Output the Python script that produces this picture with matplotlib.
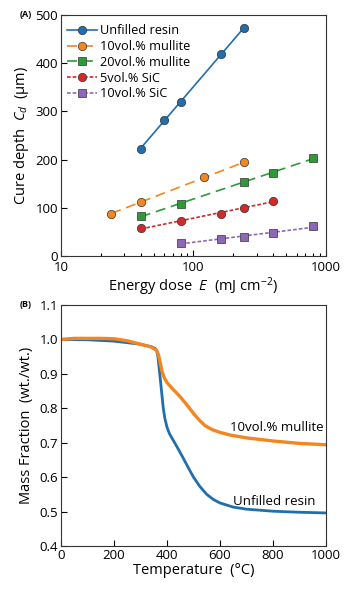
import matplotlib.pyplot as plt
import numpy as np
from matplotlib.lines import Line2D
from matplotlib.ticker import ScalarFormatter, NullFormatter

plt.rcParams["font.family"] = ["Open Sans", "DejaVu Sans"]
plt.rcParams["mathtext.fontset"] = "custom"
plt.rcParams["mathtext.it"] = "Open Sans:italic"
plt.rcParams["mathtext.rm"] = "Open Sans"

# (A) cure depth vs energy dose
names = ["Unfilled resin", "10vol.% mullite", "20vol.% mullite", "5vol.% SiC", "10vol.% SiC"]
dose_resin = [40, 60, 80, 160, 240]
depth_resin = [222, 282, 320, 418, 472]
dose_m10 = [24, 40, 120, 240]
depth_m10 = [88, 112, 163, 194]
dose_m20 = [40, 80, 240, 400, 800]
depth_m20 = [83, 108, 153, 172, 204]
dose_s5 = [40, 80, 160, 240, 400]
depth_s5 = [58, 72, 87, 100, 115]
dose_s10 = [80, 160, 240, 400, 800]
depth_s10 = [27, 35, 40, 47, 62]

# (B) TGA curves
temp_resin = [0, 100, 200, 300, 340, 355, 361, 366, 370, 374, 378, 382, 386, 392, 400,
              410, 425, 440, 460, 480, 500, 525, 550, 575, 600, 650, 700, 800, 900, 1000]
mass_resin = [1.0, 0.999, 0.995, 0.986, 0.979, 0.974, 0.968, 0.95, 0.92, 0.89, 0.86, 0.83,
              0.80, 0.77, 0.745, 0.725, 0.705, 0.685, 0.657, 0.628, 0.600, 0.572, 0.550,
              0.535, 0.525, 0.513, 0.507, 0.501, 0.498, 0.496]
temp_mul = [0, 50, 150, 200, 250, 300, 340, 361, 368, 375, 382, 390, 400, 418, 449, 475,
            499, 520, 543, 570, 600, 640, 700, 800, 900, 1000]
mass_mul = [1.0, 1.003, 1.003, 1.002, 0.996, 0.986, 0.978, 0.968, 0.955, 0.93, 0.905, 0.888,
            0.875, 0.859, 0.834, 0.81, 0.786, 0.767, 0.75, 0.738, 0.73, 0.722, 0.714, 0.705,
            0.698, 0.694]

colors = ["#1f6fb0", "#f4861f", "#2d9a3a", "#d22a2a", "#8e68b8"]
markers = ["o", "o", "s", "o", "s"]
dashes = [None, (6, 3.5), (6, 3.5), (2.2, 1.2), (2.2, 1.2)]

fig = plt.figure(figsize=(3.53, 5.89), dpi=100)
ax1 = fig.add_axes([0.1728, 0.5654, 0.7507, 0.4092])
ax2 = fig.add_axes([0.1728, 0.0730, 0.7507, 0.4092])

series = [(dose_resin, depth_resin), (dose_m10, depth_m10), (dose_m20, depth_m20),
          (dose_s5, depth_s5), (dose_s10, depth_s10)]
handles = []
for (xs, ys), c, m, d, name in zip(series, colors, markers, dashes, names):
    xs = np.array(xs, dtype=float)
    ys = np.array(ys, dtype=float)
    # linear fit of Cd against ln(E)
    k, b = np.polyfit(np.log10(xs), ys, 1)
    xf = np.array([xs.min(), xs.max()])
    ls = "-" if d is None else (0, d)
    ms = 6 if m == "o" else 5.6
    ax1.plot(xf, k * np.log10(xf) + b, color=c, lw=1.2, linestyle=ls, zorder=2)
    ax1.plot(xs, ys, linestyle="none", marker=m, ms=ms,
             mfc=c, mec="#333333", mew=0.5, zorder=3)
    handles.append(Line2D([], [], color=c, lw=1.2, linestyle=ls, marker=m,
                          ms=ms, mfc=c, mec="#333333", mew=0.5))

ax1.set_xscale("log")
ax1.set_xlim(10, 1000)
ax1.set_ylim(0, 500)
ax1.set_yticks([0, 100, 200, 300, 400, 500])
ax1.xaxis.set_major_formatter(ScalarFormatter())
ax1.xaxis.set_minor_formatter(NullFormatter())
ax1.set_xlabel("Energy dose  $E$  (mJ cm$^{-2}$)", fontsize=10.5, labelpad=1)
ax1.set_ylabel("Cure depth  $C_d$  (μm)", fontsize=10.5, labelpad=3)
ax1.legend(handles, names, loc="upper left", bbox_to_anchor=(0.005, 0.98), frameon=False,
           fontsize=9.2, handlelength=2.4, handletextpad=0.2, borderaxespad=0.15,
           labelspacing=0.22, borderpad=0.2)
ax1.text(-0.11, 1.0, "(A)", transform=ax1.transAxes, fontsize=6.5, fontweight="bold",
         ha="right", va="center")

ax2.plot(temp_resin, mass_resin, color=colors[0], lw=2.0)
ax2.plot(temp_mul, mass_mul, color=colors[1], lw=2.4)
ax2.set_xlim(0, 1000)
ax2.set_ylim(0.4, 1.1)
ax2.set_xticks([0, 200, 400, 600, 800, 1000])
ax2.set_yticks(np.arange(0.4, 1.11, 0.1))
ax2.yaxis.set_major_formatter(plt.FormatStrFormatter("%.1f"))
ax2.set_xlabel("Temperature  (°C)", fontsize=10.5, labelpad=1)
ax2.set_ylabel("Mass Fraction  (wt./wt.)", fontsize=10.5, labelpad=4)
ax2.text(638, 0.745, "10vol.% mullite", fontsize=9.5, va="center", ha="left")
ax2.text(649, 0.529, "Unfilled resin", fontsize=9.5, va="center", ha="left")
ax2.text(-0.11, 1.0, "(B)", transform=ax2.transAxes, fontsize=6.5, fontweight="bold",
         ha="right", va="center")

for ax in (ax1, ax2):
    ax.tick_params(direction="in", labelsize=9.5, length=4, width=0.8, pad=2)
    ax.tick_params(which="minor", direction="in", length=2.5, width=0.8)
    for s in ax.spines.values():
        s.set_linewidth(0.8)
        s.set_color("#333333")
ax1.tick_params(axis="x", pad=3.5)

fig.savefig("out.png", dpi=100)
